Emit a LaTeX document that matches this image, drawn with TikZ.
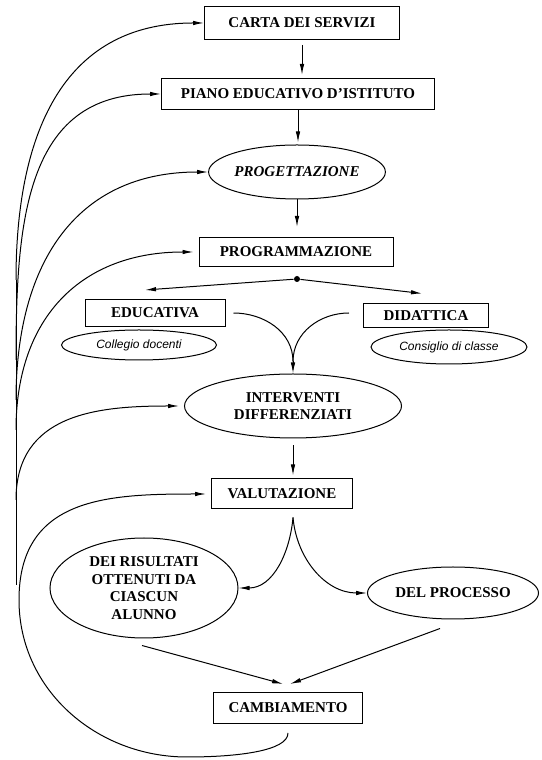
\documentclass[tikz,border=0pt]{standalone}
\usepackage{fontspec}
\setmainfont{Liberation Serif}
\setsansfont{Liberation Sans}
\usepackage{tikz}
\usetikzlibrary{calc,shapes.geometric,arrows.meta}
\newcommand*{\trunkX}{16}
\newcommand*{\boxfont}{\fontsize{15}{17.5}\selectfont\bfseries}
\newcommand*{\notefont}{\fontsize{12}{14}\selectfont\sffamily\itshape}

\begin{document}
\begin{tikzpicture}[x=1pt, y=1pt, line width=1pt,
    box/.style={draw, rectangle, inner sep=0pt, font=\boxfont, align=center},
    oval/.style={draw, ellipse, inner sep=0pt, font=\boxfont, align=center},
    note/.style={draw, ellipse, inner sep=0pt, font=\notefont},
    arr/.style={-{Latex[length=11pt,width=4.5pt]}}]
    \useasboundingbox (0,0) rectangle (541,760);

    \node [box, minimum width=195pt, minimum height=33pt] (carta) at (302,737) {CARTA DEI SERVIZI};
    \node [box, minimum width=273pt, minimum height=31pt] (piano) at (298,666) {PIANO EDUCATIVO D'ISTITUTO};
    \node [oval, minimum width=174pt, minimum height=54pt, font=\boxfont\itshape] (progett) at (297,588) {PROGETTAZIONE};
    \node [box, minimum width=194pt, minimum height=29pt] (programm) at (296,508) {PROGRAMMAZIONE};
    \node [circle, fill, inner sep=0pt, minimum size=6pt] (split) at (297,481) {};
    \node [box, minimum width=140pt, minimum height=27pt] (educ) at (155,447) {EDUCATIVA};
    \node [note, minimum width=155pt, minimum height=30pt] (collegio) at (139,415) {Collegio docenti};
    \node [box, minimum width=125pt, minimum height=24pt] (didatt) at (426,444) {DIDATTICA};
    \node [note, minimum width=156pt, minimum height=34pt] (consiglio) at (449,413) {Consiglio di classe};
    \node [oval, minimum width=217pt, minimum height=64pt] (interv) at (293,354) {INTERVENTI\\DIFFERENZIATI};
    \node [box, minimum width=141pt, minimum height=30pt] (valut) at (282,266) {VALUTAZIONE};
    \node [oval, minimum width=188pt, minimum height=100pt] (risult) at (144,172) {DEI RISULTATI\\OTTENUTI DA\\CIASCUN\\ALUNNO};
    \node [oval, minimum width=171pt, minimum height=52pt] (processo) at (453,167) {DEL PROCESSO};
    \node [box, minimum width=149pt, minimum height=31pt] (cambiam) at (288,52) {CAMBIAMENTO};

    % main column
    \draw [arr, shorten <=5pt, shorten >=3pt] (carta.south) -- (carta.south |- piano.north);
    \draw [arr, shorten >=2pt] (piano.south) -- (piano.south |- progett.north);
    \draw [arr, shorten >=10pt] (progett.south) -- (progett.south |- programm.north);

    \coordinate (toEduc) at ($(educ.north)+(-10,9)$);
    \coordinate (toDidatt) at ($(didatt.north)+(-4,10)$);
    \draw [arr] (split) -- (toEduc);
    \draw [arr] (split) -- (toDidatt);

    \coordinate (fromEduc) at ($(educ.east)+(8,0)$);
    \coordinate (fromDidatt) at ($(didatt.west)+(-14,3)$);
    \coordinate (join) at ($(interv.north)+(0,12)$);
    \draw (fromEduc) to[out=0, in=90] (join);
    \draw (fromDidatt) to[out=180, in=90] (join);
    \draw [arr] (join) -- (interv.north);

    \draw [arr, shorten <=7pt, shorten >=3pt] (interv.south) -- (interv.south |- valut.north);

    \coordinate (fork) at ($(valut.south)+(11,-8)$);
    \draw [arr] (fork) to[out=-95, in=0] (risult.east);
    \draw [arr] (fork) to[out=-85, in=180] (processo.west);

    \coordinate (fromRisult) at ($(risult.south)+(-2,-7)$);
    \coordinate (fromProc) at ($(processo.south)+(-13,-9)$);
    \coordinate (camL) at ($(cambiam.north)+(-5,8)$);
    \coordinate (camR) at ($(cambiam.north)+(2,8)$);
    \draw [arr] (fromRisult) -- (camL);
    \draw [arr] (fromProc) -- (camR);

    % feedback loop
    \coordinate (loopStart) at ($(cambiam.south)+(0,-9)$);
    \coordinate (loopBottom) at (187,3);
    \coordinate (loopSide) at (19,160);
    \draw [arr, shorten >=5pt] (loopStart) .. controls +(0,-18) and +(50,0) .. (loopBottom)
        to[out=180, in=-90] (loopSide) to[out=90, in=180, looseness=1.2] (valut.west);

    \draw (\trunkX,175) -- (\trunkX,480);
    \foreach \n/\y/\gap in {carta/480/0, piano/400/0, progett/360/0, programm/330/5, interv/260/5} {
        \coordinate (fb\n) at (\trunkX,\y);
        \draw [arr, shorten >=\gap pt] (fb\n) to[out=90, in=180, looseness=1.15] (\n.west);
    }
\end{tikzpicture}
\end{document}
